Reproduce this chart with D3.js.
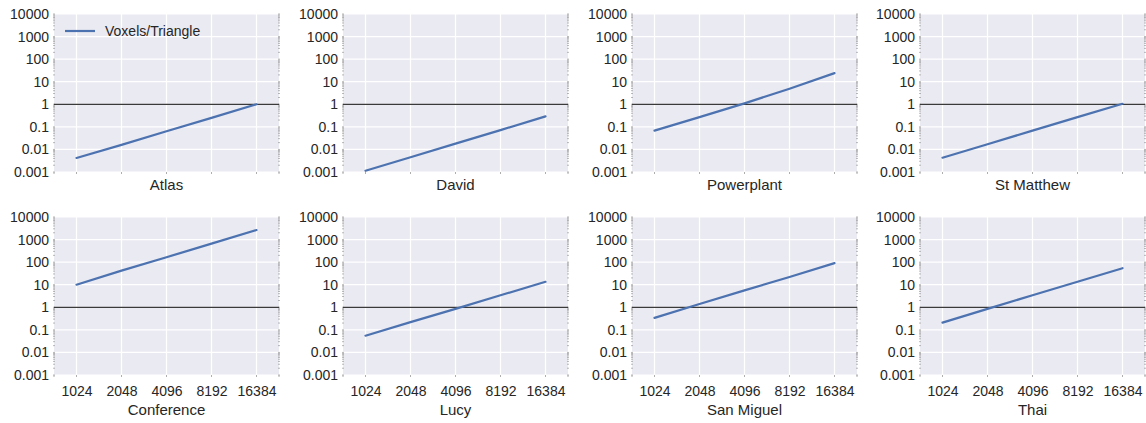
<!DOCTYPE html>
<html lang="en">
<head>
<meta charset="UTF-8">
<script src="https://cdn.jsdelivr.net/npm/d3@7"></script>
<style>
    body { margin: 0; background: #fff; font-family: "Liberation Sans", Arial, sans-serif; }
    svg { display: block; }
    .tick text { fill: #262626; font-size: 14px; font-family: "Liberation Sans", Arial, sans-serif; }
</style>
</head>
<body>
<script>
    // x values (grid resolution) and labels
    const resolutions = [1024, 2048, 4096, 8192, 16384];
    const yTicks = [0.001, 0.01, 0.1, 1, 10, 100, 1000, 10000];
    const sceneNames = ["Atlas", "David", "Powerplant", "St Matthew",
                        "Conference", "Lucy", "San Miguel", "Thai"];

    // voxels per triangle
    const atlas      = [0.0042, 0.016, 0.064, 0.25, 1.0];
    const david      = [0.00113, 0.0045, 0.018, 0.072, 0.29];
    const powerplant = [0.068, 0.27, 1.1, 4.9, 24];
    const stMatthew  = [0.0043, 0.017, 0.068, 0.27, 1.05];
    const conference = [10, 42, 165, 660, 2650];
    const lucy       = [0.055, 0.22, 0.85, 3.4, 13.5];
    const sanMiguel  = [0.34, 1.4, 5.6, 22, 90];
    const thai       = [0.21, 0.85, 3.4, 13.5, 54];

    const series = [atlas, david, powerplant, stMatthew, conference, lucy, sanMiguel, thai];

    const W = 1146, H = 423;
    const panelW = 225, panelH = 158;
    const lefts = [54, 343, 632, 920];
    const tops = [14, 217];

    const svg = d3.select("body").append("svg")
        .attr("width", W)
        .attr("height", H);

    const x = d3.scaleLog().base(2)
        .domain([1024 / Math.SQRT2, 16384 * Math.SQRT2])
        .range([0, panelW]);
    const y = d3.scaleLog()
        .domain([0.001, 10000])
        .range([panelH, 0]);

    // minor ticks for the log axis
    const minor = [];
    for (let e = -3; e < 4; e++) {
        for (let k = 2; k < 10; k++) minor.push(k * Math.pow(10, e));
    }

    const line = d3.line()
        .x((d, i) => x(resolutions[i]))
        .y(d => y(d));

    series.forEach((vals, idx) => {
        const row = Math.floor(idx / 4), col = idx % 4;
        const g = svg.append("g")
            .attr("transform", `translate(${lefts[col]},${tops[row]})`);

        g.append("rect")
            .attr("width", panelW)
            .attr("height", panelH)
            .attr("fill", "#eaeaf2");

        // grid
        g.selectAll(".gx").data(resolutions).enter().append("line")
            .attr("x1", d => x(d)).attr("x2", d => x(d))
            .attr("y1", 0).attr("y2", panelH)
            .attr("stroke", "#fff").attr("stroke-width", 1.2);
        g.selectAll(".gy").data(yTicks).enter().append("line")
            .attr("x1", 0).attr("x2", panelW)
            .attr("y1", d => y(d)).attr("y2", d => y(d))
            .attr("stroke", "#fff").attr("stroke-width", 1.2);

        // tiny ticks on left/right spines
        [0, panelW].forEach(px => {
            g.selectAll(null).data(minor.concat(yTicks)).enter().append("line")
                .attr("x1", px - 1).attr("x2", px + 1)
                .attr("y1", d => y(d)).attr("y2", d => y(d))
                .attr("stroke", "#8a8a8a").attr("stroke-width", 0.6);
        });
        // small ticks on bottom
        g.selectAll(null).data([x.domain()[0]].concat(resolutions, [x.domain()[1]])).enter().append("line")
            .attr("x1", d => x(d)).attr("x2", d => x(d))
            .attr("y1", panelH).attr("y2", panelH + 2)
            .attr("stroke", "#999").attr("stroke-width", 0.8);

        // y axis labels
        const yAxis = d3.axisLeft(y)
            .tickValues(yTicks)
            .tickFormat(d => d >= 1 ? d3.format("d")(d) : String(+d.toPrecision(1)))
            .tickSize(0)
            .tickPadding(5);
        const ya = g.append("g").call(yAxis);
        ya.select(".domain").remove();

        if (row === 1) {
            const xAxis = d3.axisBottom(x)
                .tickValues(resolutions)
                .tickFormat(d3.format("d"))
                .tickSize(0)
                .tickPadding(11);
            const xa = g.append("g").attr("transform", `translate(0,${panelH})`).call(xAxis);
            xa.select(".domain").remove();
        }

        // reference line at 1
        g.append("line")
            .attr("x1", 0).attr("x2", panelW)
            .attr("y1", y(1)).attr("y2", y(1))
            .attr("stroke", "#3a3a3a").attr("stroke-width", 1.3);

        g.append("path")
            .datum(vals)
            .attr("d", line)
            .attr("fill", "none")
            .attr("stroke", "#4c72b0")
            .attr("stroke-width", 2.2)
            .attr("stroke-linecap", "round");

        g.append("text")
            .attr("x", panelW / 2)
            .attr("y", row === 0 ? panelH + 18 : panelH + 40)
            .attr("text-anchor", "middle")
            .attr("fill", "#262626")
            .attr("font-size", 15)
            .text(sceneNames[idx]);

        if (idx === 0) {
            const lg = g.append("g").attr("transform", "translate(11,17)");
            lg.append("line")
                .attr("x1", 0).attr("x2", 30)
                .attr("stroke", "#4c72b0").attr("stroke-width", 2.2);
            lg.append("text")
                .attr("x", 40).attr("y", 5)
                .attr("fill", "#262626")
                .attr("font-size", 14)
                .text("Voxels/Triangle");
        }
    });
</script>
</body>
</html>
